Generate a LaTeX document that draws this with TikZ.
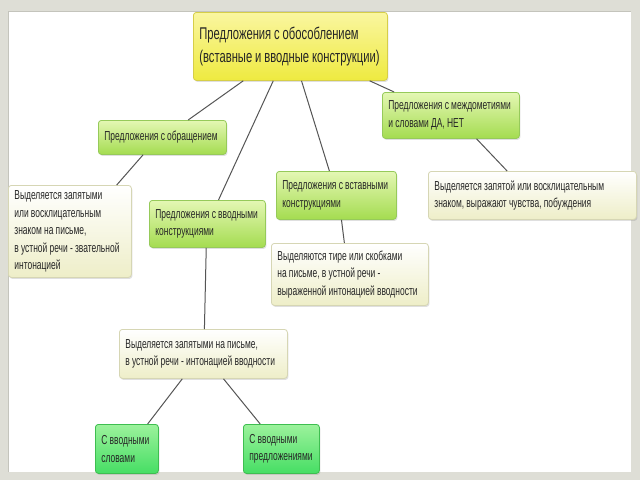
\documentclass[tikz,border=0pt]{standalone}
\usepackage{fontspec}
\setmainfont{Liberation Sans}[FakeStretch=0.65]
\newfontfamily\bigfam{Liberation Sans}[FakeStretch=0.66]
\usetikzlibrary{calc,shadows}
\definecolor{framegray}{HTML}{DEDED6}
\definecolor{frameedge}{HTML}{C4C4BC}
\definecolor{txt}{HTML}{262626}
\definecolor{ytop}{HTML}{FAF6A0}
\definecolor{ybot}{HTML}{EEEA40}
\definecolor{yedge}{HTML}{D6CE48}
\definecolor{gtop}{HTML}{E4F7B4}
\definecolor{gbot}{HTML}{A4DC50}
\definecolor{gedge}{HTML}{96CA5A}
\definecolor{ptop}{HTML}{FFFFFF}
\definecolor{pbot}{HTML}{EEEEC8}
\definecolor{pedge}{HTML}{D6D6B4}
\definecolor{btop}{HTML}{9CF29C}
\definecolor{bbot}{HTML}{46DE64}
\definecolor{bedge}{HTML}{3EBE50}
\definecolor{linec}{HTML}{555555}
\newcommand\fbig{\bigfam\fontsize{17}{23}\selectfont}
\newcommand\fsm{\fontsize{13}{17.5}\selectfont}
\tikzset{
  x=1pt, y=-1pt,
  boxbase/.style={rounded corners=3pt, line width=0.8pt, anchor=north west,
    align=left, inner xsep=6pt, inner ysep=1pt, text=txt, font=\fsm,
    execute at begin node={\spaceskip=0.17em plus 0.1em\relax\xspaceskip=0.17em plus 0.1em\relax},
    drop shadow={shadow xshift=1pt, shadow yshift=-1.5pt, opacity=0.25}},
  ybox/.style={boxbase, draw=yedge, top color=ytop, bottom color=ybot, font=\fbig},
  gbox/.style={boxbase, draw=gedge, top color=gtop, bottom color=gbot},
  pbox/.style={boxbase, draw=pedge, top color=ptop, bottom color=pbot},
  bbox/.style={boxbase, draw=bedge, top color=btop, bottom color=bbot},
  conn/.style={draw=linec, line width=1pt},
}
\begin{document}
\begin{tikzpicture}
\useasboundingbox (0,0) rectangle (640,480);
\fill[framegray] (0,0) rectangle (640,480);
\fill[white] (8,11) rectangle (631,472);
\draw[frameedge, line width=0.8pt] (8,472) -- (8,11) -- (631,11);

\node[ybox, text width=182pt, minimum height=68pt] (top) at (193,12)
  {\mbox{Предложения с обособлением}\\\mbox{(вставные и вводные конструкции)}};
\node[gbox, text width=116pt, minimum height=34pt] (obr) at (98,120)
  {\mbox{Предложения с обращением}};
\node[gbox, text width=125pt, minimum height=46pt] (mezh) at (382,92)
  {\mbox{Предложения с междометиями}\\\mbox{и словами ДА, НЕТ}};
\node[pbox, text width=111pt, minimum height=92pt] (obrd) at (8,185)
  {\mbox{Выделяется запятыми}\\\mbox{или восклицательным}\\\mbox{знаком на письме,}\\\mbox{в устной речи - звательной}\\\mbox{интонацией}};
\node[gbox, text width=104pt, minimum height=47pt] (vvod) at (149,200)
  {\mbox{Предложения с вводными}\\\mbox{конструкциями}};
\node[gbox, text width=108pt, minimum height=48pt] (vst) at (276,171)
  {\mbox{Предложения с вставными}\\\mbox{конструкциями}};
\node[pbox, text width=196pt, minimum height=48pt] (mezhd) at (428,171)
  {\mbox{Выделяется запятой или восклицательным}\\\mbox{знаком, выражают чувства, побуждения}};
\node[pbox, text width=145pt, minimum height=62pt] (vstd) at (271,243)
  {\mbox{Выделяются тире или скобками}\\\mbox{на письме, в устной речи -}\\\mbox{выраженной интонацией вводности}};
\node[pbox, text width=156pt, minimum height=49pt] (vvodd) at (119,329)
  {\mbox{Выделяется запятыми на письме,}\\\mbox{в устной речи - интонацией вводности}};
\node[bbox, text width=51pt, minimum height=49pt] (slov) at (95,424)
  {\mbox{С вводными}\\\mbox{словами}};
\node[bbox, text width=64pt, minimum height=49pt] (pred) at (243,424)
  {\mbox{С вводными}\\\mbox{предложениями}};

\draw[conn] ($(top.south west)!0.258!(top.south east)$) -- ($(obr.north west)!0.70!(obr.north east)$);
\draw[conn] ($(top.south west)!0.412!(top.south east)$) -- ($(vvod.north west)!0.595!(vvod.north east)$);
\draw[conn] ($(top.south west)!0.557!(top.south east)$) -- ($(vst.north west)!0.442!(vst.north east)$);
\draw[conn] ($(top.south west)!0.907!(top.south east)$) -- ($(mezh.north west)!0.088!(mezh.north east)$);
\draw[conn] ($(obr.south west)!0.35!(obr.south east)$) -- ($(obrd.north west)!0.878!(obrd.north east)$);
\draw[conn] ($(mezh.south west)!0.686!(mezh.south east)$) -- ($(mezhd.north west)!0.379!(mezhd.north east)$);
\draw[conn] ($(vvod.south west)!0.49!(vvod.south east)$) -- ($(vvodd.north west)!0.506!(vvodd.north east)$);
\draw[conn] ($(vst.south west)!0.542!(vst.south east)$) -- ($(vstd.north west)!0.465!(vstd.north east)$);
\draw[conn] ($(vvodd.south west)!0.375!(vvodd.south east)$) -- ($(slov.north west)!0.825!(slov.north east)$);
\draw[conn] ($(vvodd.south west)!0.619!(vvodd.south east)$) -- ($(pred.north west)!0.224!(pred.north east)$);
\end{tikzpicture}
\end{document}
